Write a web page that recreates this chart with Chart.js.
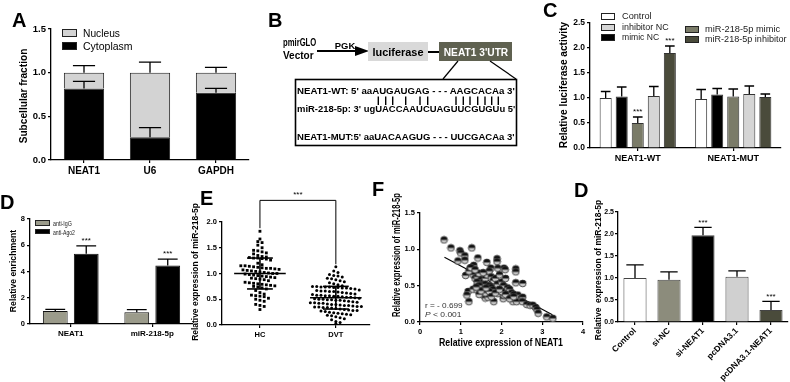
<!DOCTYPE html>
<html>
<head>
<meta charset="utf-8">
<script src="https://cdn.jsdelivr.net/npm/chart.js@4.4.0/dist/chart.umd.min.js"></script>
<style>
  body{margin:0;width:790px;height:382px;overflow:hidden;position:relative;background:#fff;font-family:'Liberation Sans',Arial,sans-serif;color:#000}
  canvas{position:absolute}
  .L{position:absolute;font-weight:bold;font-size:20px;line-height:20px}
  .t,.tc,.tv{position:absolute;white-space:nowrap;display:inline-block;line-height:1}
  .t{transform-origin:left center}
  .tc,.tv{transform-origin:center center}
  .b{font-weight:bold}
  .sw{position:absolute;box-sizing:border-box;border:1px solid #222}
  svg{position:absolute;left:0;top:0}
</style>
</head>
<body>
<canvas id="cA" width="252" height="190" style="left:0;top:10px"></canvas>
<canvas id="cC" width="245" height="180" style="left:540px;top:5px"></canvas>
<canvas id="cD" width="196" height="150" style="left:0;top:205px"></canvas>
<canvas id="cE" width="182" height="170" style="left:190px;top:185px"></canvas>
<canvas id="cF" width="210" height="160" style="left:380px;top:200px"></canvas>
<canvas id="cD2" width="200" height="182" style="left:590px;top:200px"></canvas>

<svg width="790" height="382">
  <line x1="317" y1="51" x2="357" y2="51" stroke="#000" stroke-width="2.2"/>
  <polygon points="355,46 369,51 355,56" fill="#000"/>
  <rect x="368" y="42" width="60" height="19" fill="#d9d9d9"/>
  <line x1="428" y1="52" x2="439" y2="52" stroke="#000" stroke-width="2"/>
  <rect x="439" y="42" width="73" height="19" fill="#5f6150"/>
  <line x1="458" y1="61" x2="443" y2="79" stroke="#000" stroke-width="1.2"/>
  <line x1="490" y1="61" x2="516" y2="79" stroke="#000" stroke-width="1.2"/>
  <rect x="295.5" y="79.5" width="221" height="66" fill="none" stroke="#000" stroke-width="1.6"/>
  <g id="pipes" stroke="#000" stroke-width="1.4"></g>
</svg>

<div class="L" style="left:12px;top:10px">A</div>
<div class="L" style="left:268px;top:10px">B</div>
<div class="L" style="left:543px;top:0px">C</div>
<div class="L" style="left:0px;top:192px">D</div>
<div class="L" style="left:200px;top:188px">E</div>
<div class="L" style="left:372px;top:179px">F</div>
<div class="L" style="left:574px;top:180px">D</div>

<!-- axis titles -->
<span class="tv b" data-x="23" data-y="96" data-w="95" style="font-size:11px">Subcellular fraction</span>
<span class="tv b" data-x="563" data-y="85" data-w="126" style="font-size:10.5px">Relative luciferase activity</span>
<span class="tv b" data-x="13" data-y="271" data-w="82" style="font-size:9.5px">Relative enrichment</span>
<span class="tv b" data-x="195" data-y="272" data-w="138" style="font-size:9.5px">Relative expression of miR-218-5p</span>
<span class="tv b" data-x="397" data-y="255" data-w="124" style="font-size:10px">Relative expression of miR-218-5p</span>
<span class="tc b" data-x="501" data-y="343" data-w="124" style="font-size:10px">Relative expression of NEAT1</span>
<span class="tv b" data-x="598" data-y="270" data-w="140" style="font-size:9.5px">Relative&nbsp; expression of miR-218-5p</span>

<!-- legends -->
<div class="sw" style="left:62px;top:29px;width:15px;height:8px;background:#d3d3d3"></div>
<div class="sw" style="left:62px;top:42px;width:15px;height:8px;background:#000"></div>
<span class="t" data-x="83" data-y="33" data-w="37" style="font-size:10.5px">Nucleus</span>
<span class="t" data-x="83" data-y="46" data-w="50" style="font-size:10.5px">Cytoplasm</span>

<div class="sw" style="left:601px;top:13px;width:14px;height:7px;background:#fff"></div>
<div class="sw" style="left:601px;top:24px;width:14px;height:7px;background:#d5d5d5"></div>
<div class="sw" style="left:601px;top:34px;width:14px;height:7px;background:#000"></div>
<div class="sw" style="left:685px;top:26px;width:14px;height:7px;background:#7a7b68"></div>
<div class="sw" style="left:685px;top:36px;width:14px;height:7px;background:#4a4b3b"></div>
<span class="t" data-x="622" data-y="16" data-w="30" style="font-size:9.5px;color:#222">Control</span>
<span class="t" data-x="622" data-y="27" data-w="47" style="font-size:9.5px;color:#222">inhibitor NC</span>
<span class="t" data-x="622" data-y="37" data-w="37" style="font-size:9.5px;color:#222">mimic NC</span>
<span class="t" data-x="705" data-y="29" data-w="75" style="font-size:9.5px;color:#222">miR-218-5p mimic</span>
<span class="t" data-x="705" data-y="39" data-w="82" style="font-size:9.5px;color:#222">miR-218-5p inhibitor</span>

<div class="sw" style="left:35px;top:220px;width:15px;height:6px;background:#9b9b8b"></div>
<div class="sw" style="left:35px;top:229px;width:15px;height:5px;background:#000"></div>
<span class="t" data-x="53" data-y="223" data-w="19" style="font-size:7px;color:#222">anti-IgG</span>
<span class="t" data-x="53" data-y="231.5" data-w="22" style="font-size:7px;color:#222">anti-Ago2</span>

<span class="t" data-x="425" data-y="306" data-w="38" style="font-size:8px;color:#333">r = - 0.699</span>
<span class="t" data-x="425" data-y="315" data-w="36" style="font-size:8px;color:#333"><i>P</i> &lt; 0.001</span>

<!-- panel B text -->
<span class="t b" data-x="283" data-y="43" data-w="33" style="font-size:10px">pmirGLO</span>
<span class="t b" data-x="283" data-y="56" data-w="31" style="font-size:10px">Vector</span>
<span class="tc b" data-x="345" data-y="46" data-w="20" style="font-size:8.5px">PGK</span>
<span class="tc b" data-x="398" data-y="52" data-w="51" style="font-size:10.5px">luciferase</span>
<span class="tc b" data-x="475.5" data-y="52" data-w="64" style="font-size:10.5px;color:#fff">NEAT1 3'UTR</span>
<span class="t b" data-x="297" data-y="91" data-w="218" style="font-size:9px">NEAT1-WT: 5' aaAUGAUGAG - - - AAGCACAa 3'</span>
<span class="t b" data-x="297" data-y="109" data-w="218" style="font-size:9px">miR-218-5p: 3' ugUACCAAUCUAGUUCGUGUu 5'</span>
<span class="t b" data-x="297" data-y="137" data-w="218" style="font-size:9px">NEAT1-MUT:5' aaUACAAGUG - - - UUCGACAa 3'</span>

<script>
// ---------- data ----------
// A: subcellular fractionation
const fracCats = ['NEAT1', 'U6', 'GAPDH'];
const cytoplasm = [0.82, 0.26, 0.77];
const cytoplasmErr = [0.08, 0.11, 0.05];
const nucleus = [0.18, 0.74, 0.23];
const nucleusErr = [0.08, 0.12, 0.06];

// C: luciferase reporter
const lucCats = ['NEAT1-WT', 'NEAT1-MUT'];
const lucControl = [1.00, 0.98];
const lucControlErr = [0.13, 0.19];
const lucMimicNC = [1.03, 1.07];
const lucMimicNCErr = [0.19, 0.12];
const lucMimic = [0.50, 1.03];
const lucMimicErr = [0.12, 0.15];
const lucMimicSig = ['***', ''];
const lucInhNC = [1.04, 1.08];
const lucInhNCErr = [0.19, 0.16];
const lucInh = [1.90, 1.02];
const lucInhErr = [0.14, 0.06];
const lucInhSig = ['***', ''];

// D: RIP
const ripCats = ['NEAT1', 'miR-218-5p'];
const antiIgG = [1.00, 0.90];
const antiIgGErr = [0.12, 0.20];
const antiAgo2 = [5.35, 4.45];
const antiAgo2Err = [0.60, 0.50];
const antiAgo2Sig = ['***', '***'];

// E: serum miR-218-5p
const eCats = ['HC', 'DVT'];
const hcValues = [1.82, 1.67, 1.62, 1.60, 1.55, 1.50, 1.45, 1.44, 1.42, 1.40, 1.38, 1.35, 1.33, 1.32, 1.31,
  1.30, 1.30, 1.29, 1.28, 1.26, 1.20, 1.17, 1.15, 1.15, 1.14, 1.13, 1.12, 1.11, 1.10, 1.10, 1.09, 1.08,
  1.07, 1.06, 1.05, 1.04, 1.03, 1.02, 1.01, 1.00, 1.00, 0.99, 0.98, 0.97, 0.96, 0.95, 0.94, 0.93, 0.92,
  0.91, 0.90, 0.89, 0.88, 0.86, 0.83, 0.82, 0.81, 0.80, 0.79, 0.78, 0.77, 0.76, 0.75, 0.74, 0.72, 0.70,
  0.67, 0.63, 0.60, 0.58, 0.57, 0.56, 0.55, 0.52, 0.50, 0.48, 0.46, 0.40, 0.38, 0.36, 0.30];
const dvtValues = [1.13, 1.05, 1.02, 0.98, 0.96, 0.95, 0.93, 0.91, 0.90, 0.88, 0.86, 0.84, 0.82, 0.80, 0.78,
  0.76, 0.75, 0.75, 0.74, 0.74, 0.74, 0.73, 0.73, 0.72, 0.72, 0.71, 0.70,
  0.68, 0.67, 0.66, 0.66, 0.65, 0.65, 0.64, 0.63, 0.62, 0.61,
  0.60, 0.59, 0.58, 0.58, 0.57, 0.57, 0.56, 0.56, 0.55, 0.54, 0.54, 0.53,
  0.52, 0.51, 0.50, 0.50, 0.49, 0.49, 0.48, 0.48, 0.47, 0.46, 0.45,
  0.44, 0.43, 0.43, 0.42, 0.42, 0.41, 0.40, 0.40, 0.39, 0.38, 0.38,
  0.37, 0.36, 0.36, 0.35, 0.35, 0.34, 0.34, 0.33, 0.32, 0.31,
  0.30, 0.29, 0.28, 0.28, 0.27, 0.26, 0.25, 0.24, 0.23, 0.22, 0.21, 0.20, 0.19, 0.18,
  0.16, 0.14, 0.12, 0.10, 0.07, 0.05, 0.03];
const hcMean = 1.00, hcSD = 0.30;
const dvtMean = 0.53, dvtSD = 0.22;
const eSig = '***';

// F: correlation
const neat1Expr = [0.59, 0.76, 0.98, 1.00, 0.93, 1.10, 1.10, 1.27, 1.42, 1.12, 1.23, 1.32, 1.64, 1.89, 1.89, 1.74,
  1.91, 2.06, 2.09, 2.35, 2.35, 2.35, 2.52, 1.18, 1.20, 1.15, 1.30, 1.40, 1.47, 1.55, 1.60, 1.67, 1.81, 1.91,
  2.04, 2.06, 2.14, 2.20, 2.25, 2.28, 2.37, 2.40, 2.49, 2.52, 2.51, 2.62, 2.70, 2.77, 2.84, 2.87, 2.90, 3.11,
  3.26, 1.30, 1.35, 1.40, 1.45, 1.50, 1.55, 1.60, 1.65, 1.70, 1.75, 1.80, 1.50, 1.55, 1.60, 1.65, 1.70, 1.75,
  1.80, 1.40, 1.45, 1.85, 1.90, 2.00, 2.05, 2.10, 2.15, 2.20, 2.25, 2.30, 2.00, 1.95, 1.20, 1.25, 1.35, 1.60,
  1.70, 1.75, 1.85, 1.95, 2.10, 2.20, 2.30, 1.45, 1.50, 1.62, 1.55, 1.38];
const mirExpr = [1.13, 1.02, 0.98, 0.95, 0.84, 0.91, 0.85, 1.02, 0.88, 0.64, 0.74, 0.78, 0.82, 0.87, 0.83, 0.74,
  0.74, 0.74, 0.72, 0.73, 0.69, 0.54, 0.53, 0.42, 0.28, 0.37, 0.45, 0.44, 0.44, 0.37, 0.33, 0.34, 0.28, 0.39,
  0.32, 0.37, 0.42, 0.37, 0.33, 0.28, 0.28, 0.37, 0.33, 0.34, 0.28, 0.24, 0.23, 0.23, 0.20, 0.17, 0.12, 0.07,
  0.05, 0.65, 0.60, 0.62, 0.67, 0.58, 0.55, 0.60, 0.65, 0.70, 0.62, 0.57, 0.50, 0.48, 0.52, 0.45, 0.50, 0.48,
  0.45, 0.55, 0.50, 0.60, 0.52, 0.55, 0.50, 0.60, 0.47, 0.45, 0.40, 0.38, 0.42, 0.65, 0.70, 0.75, 0.72, 0.40,
  0.42, 0.35, 0.40, 0.45, 0.38, 0.32, 0.35, 0.38, 0.43, 0.47, 0.68, 0.48];
const fitX = [0.60, 3.25];
const fitY = [0.89, 0.10];

// D (right): rescue
const rescueCats = ['Control', 'si-NC', 'si-NEAT1', 'pcDNA3.1', 'pcDNA3.1-NEAT1'];
const rescueVals = [1.00, 0.96, 1.97, 1.03, 0.27];
const rescueErr = [0.30, 0.18, 0.18, 0.13, 0.20];
const rescueSig = ['', '', '***', '', '***'];

// ---------- helpers ----------
const FONT = "'Liberation Sans', Arial, sans-serif";
Chart.defaults.font.family = FONT;
Chart.defaults.color = '#000';

document.querySelectorAll('.t,.tc,.tv').forEach(el => {
  const x = +el.dataset.x, y = +el.dataset.y, w = +el.dataset.w;
  const k = w / el.offsetWidth;
  el.style.left = x + 'px';
  el.style.top = y + 'px';
  if (el.classList.contains('tv')) el.style.transform = `translate(-50%,-50%) rotate(-90deg) scaleX(${k})`;
  else if (el.classList.contains('tc')) el.style.transform = `translate(-50%,-50%) scaleX(${k})`;
  else el.style.transform = `translateY(-50%) scaleX(${k})`;
});

const pipeX = [378.3, 385.7, 392.7, 405.7, 420, 427.7, 456, 463.3, 470, 477.7, 485, 491.7, 498.3];
const pipes = document.getElementById('pipes');
pipeX.forEach(x => {
  const l = document.createElementNS('http://www.w3.org/2000/svg', 'line');
  l.setAttribute('x1', x); l.setAttribute('x2', x); l.setAttribute('y1', 96.5); l.setAttribute('y2', 105);
  pipes.appendChild(l);
});

const errorBars = {
  id: 'errorBars',
  afterDatasetsDraw(chart) {
    const ctx = chart.ctx, y = chart.scales.y;
    chart.data.datasets.forEach((ds, i) => {
      if (!ds.errors) return;
      chart.getDatasetMeta(i).data.forEach((bar, j) => {
        const err = ds.errors[j];
        const yTop = y.getPixelForValue(y.getValueForPixel(bar.y) + err);
        const cap = bar.width * (ds.cap || 0.8) / 2;
        ctx.save();
        ctx.strokeStyle = ds.errColor || '#000';
        ctx.lineWidth = 1.3;
        ctx.beginPath();
        ctx.moveTo(bar.x, bar.y); ctx.lineTo(bar.x, yTop);
        ctx.moveTo(bar.x - cap, yTop); ctx.lineTo(bar.x + cap, yTop);
        ctx.stroke();
        if (ds.stars && ds.stars[j]) {
          ctx.fillStyle = '#000';
          ctx.font = '8px ' + FONT;
          ctx.textAlign = 'center';
          ctx.textBaseline = 'bottom';
          ctx.fillText(ds.stars[j], bar.x, yTop - 1);
        }
        ctx.restore();
      });
    });
  }
};

function yAx(min, max, step, W, size, digits, extra) {
  return Object.assign({
    min, max,
    ticks: { stepSize: step, font: { size, weight: 'bold' }, padding: 2, callback: v => (+v).toFixed(digits) },
    grid: { drawOnChartArea: false, tickLength: 3, color: '#000', lineWidth: 1.2 },
    border: { color: '#000', width: 1.3 },
    afterFit: s => { s.width = W; }
  }, extra || {});
}
function xCat(H, size, extra) {
  return Object.assign({
    ticks: { font: { size, weight: 'bold' }, padding: 2, autoSkip: false, maxRotation: 0 },
    grid: { offset: false, drawOnChartArea: false, tickLength: 3, color: '#000', lineWidth: 1.2 },
    border: { color: '#000', width: 1.3 },
    afterFit: s => { s.height = H; }
  }, extra || {});
}
function make(id, type, data, scales, pad, plugins) {
  return new Chart(document.getElementById(id), {
    type, data, plugins: plugins || [],
    options: {
      responsive: false, animation: false,
      layout: { padding: { top: pad[0], right: pad[1], bottom: 0, left: 0 }, autoPadding: false },
      plugins: { legend: { display: false }, tooltip: { enabled: false } },
      scales
    }
  });
}
function bar(label, data, color, errors, extra) {
  return Object.assign({ label, data, backgroundColor: color, borderColor: '#222', borderWidth: 1, errors }, extra || {});
}

// ---------- A ----------
make('cA', 'bar', {
  labels: fracCats,
  datasets: [
    bar('Cytoplasm', cytoplasm, '#000', cytoplasmErr, { cap: 0.55, barPercentage: 0.61, categoryPercentage: 1 }),
    bar('Nucleus', nucleus, '#d3d3d3', nucleusErr, { cap: 0.55, barPercentage: 0.61, categoryPercentage: 1 })
  ]
}, {
  x: xCat(40, 10, { stacked: true }),
  y: yAx(0, 1.5, 0.5, 51, 9.5, 1, { stacked: true })
}, [19, 3], [errorBars]);

// ---------- C ----------
const cOpt = { barPercentage: 0.75, categoryPercentage: 0.84, borderColor: '#333' };
make('cC', 'bar', {
  labels: lucCats,
  datasets: [
    bar('Control', lucControl, '#fff', lucControlErr, cOpt),
    bar('mimic NC', lucMimicNC, '#000', lucMimicNCErr, cOpt),
    bar('miR-218-5p mimic', lucMimic, '#7a7b68', lucMimicErr, Object.assign({ stars: lucMimicSig }, cOpt)),
    bar('inhibitor NC', lucInhNC, '#d5d5d5', lucInhNCErr, cOpt),
    bar('miR-218-5p inhibitor', lucInh, '#4a4b3b', lucInhErr, Object.assign({ stars: lucInhSig }, cOpt))
  ]
}, {
  x: xCat(37, 9),
  y: yAx(0, 2.5, 0.5, 50, 8.5, 1)
}, [18, 4], [errorBars]);

// ---------- D (left) ----------
const dOpt = { barPercentage: 0.8, categoryPercentage: 0.76, borderColor: '#111' };
make('cD', 'bar', {
  labels: ripCats,
  datasets: [
    bar('anti-IgG', antiIgG, '#9b9b8b', antiIgGErr, dOpt),
    bar('anti-Ago2', antiAgo2, '#000', antiAgo2Err, Object.assign({ stars: antiAgo2Sig }, dOpt))
  ]
}, {
  x: xCat(31, 8),
  y: yAx(0, 8, 2, 30, 7.5, 0)
}, [14, 3], [errorBars]);

// ---------- E ----------
// spread points of similar value side by side (scatter dot plot layout)
function swarm(values, center) {
  const rows = {};
  values.forEach(v => { const k = Math.round(v / 0.08); (rows[k] = rows[k] || []).push(v); });
  const pts = [];
  Object.values(rows).forEach(r => r.forEach((v, i) => pts.push({ x: center + (i - (r.length - 1) / 2) * 0.056, y: v })));
  return pts;
}
function statLines(center, mean, sd) {
  const seg = (a, b) => ({ type: 'line', data: [a, b], borderColor: '#000', borderWidth: 1.6, pointRadius: 0, showLine: true });
  return [
    seg({ x: center - 0.34, y: mean }, { x: center + 0.34, y: mean }),
    seg({ x: center - 0.17, y: mean + sd }, { x: center + 0.17, y: mean + sd }),
    seg({ x: center - 0.17, y: mean - sd }, { x: center + 0.17, y: mean - sd }),
    seg({ x: center, y: mean - sd }, { x: center, y: mean + sd })
  ];
}
const bracketE = {
  id: 'bracketE',
  afterDraw(c) {
    const { ctx, scales: { x, y } } = c;
    const x1 = x.getPixelForValue(1), x2 = x.getPixelForValue(2);
    const top = y.getPixelForValue(2.42);
    ctx.save();
    ctx.strokeStyle = '#000'; ctx.lineWidth = 1;
    ctx.beginPath();
    ctx.moveTo(x1, y.getPixelForValue(1.88)); ctx.lineTo(x1, top);
    ctx.lineTo(x2, top); ctx.lineTo(x2, y.getPixelForValue(1.18));
    ctx.stroke();
    ctx.fillStyle = '#000'; ctx.font = '8px ' + FONT;
    ctx.textAlign = 'center'; ctx.textBaseline = 'bottom';
    ctx.fillText(eSig, (x1 + x2) / 2, top - 2);
    ctx.restore();
  }
};
make('cE', 'scatter', {
  datasets: [
    { data: swarm(hcValues, 1), pointStyle: 'rect', radius: 2, backgroundColor: '#000', borderWidth: 0 },
    { data: swarm(dvtValues, 2), pointStyle: 'circle', radius: 1.5, backgroundColor: '#000', borderWidth: 0 },
    ...statLines(1, hcMean, hcSD),
    ...statLines(2, dvtMean, dvtSD)
  ]
}, {
  x: {
    type: 'linear', min: 0.5, max: 2.45,
    afterBuildTicks: s => { s.ticks = [{ value: 1 }, { value: 2 }]; },
    ticks: { font: { size: 7.5, weight: 'bold' }, padding: 2, callback: v => eCats[v - 1] },
    grid: { drawOnChartArea: false, tickLength: 3, color: '#000', lineWidth: 1.2 },
    border: { color: '#000', width: 1.3 },
    afterFit: s => { s.height = 30; }
  },
  y: yAx(0, 2, 0.5, 32, 7.5, 1)
}, [37, 2], [bracketE]);

// ---------- F ----------
function halfDot(r) {
  const s = Math.ceil(2 * r + 2), m = s / 2;
  const c = document.createElement('canvas');
  c.width = c.height = s;
  const g = c.getContext('2d');
  g.beginPath(); g.arc(m, m, r, 0, Math.PI * 2); g.fillStyle = '#c6c6c6'; g.fill();
  g.beginPath(); g.arc(m, m, r, Math.PI, 0); g.closePath(); g.fillStyle = '#111'; g.fill();
  g.beginPath(); g.arc(m, m, r, 0, Math.PI * 2); g.strokeStyle = '#333'; g.lineWidth = 0.8; g.stroke();
  return c;
}
make('cF', 'scatter', {
  datasets: [
    { data: neat1Expr.map((v, i) => ({ x: v, y: mirExpr[i] })), pointStyle: halfDot(3.4) },
    { type: 'line', data: fitX.map((v, i) => ({ x: v, y: fitY[i] })), borderColor: '#000', borderWidth: 1.1, pointRadius: 0, showLine: true }
  ]
}, {
  x: {
    type: 'linear', min: 0, max: 4,
    ticks: { stepSize: 1, font: { size: 7.5, weight: 'bold' }, padding: 2 },
    grid: { drawOnChartArea: false, tickLength: 3, color: '#000', lineWidth: 1.2 },
    border: { color: '#000', width: 1.3 },
    afterFit: s => { s.height = 38; }
  },
  y: yAx(0, 1.5, 0.5, 40, 7.5, 1)
}, [13, 7]);

// ---------- D (right) ----------
const d2Y = yAx(0, 2.5, 0.5, 28, 7, 1);
d2Y.ticks.padding = 1;
make('cD2', 'bar', {
  labels: rescueCats,
  datasets: [
    bar('miR-218-5p', rescueVals, ['#fff', '#8c8c7c', '#000', '#d0d0d0', '#4a4b3b'], rescueErr,
      { stars: rescueSig, barPercentage: 0.68, categoryPercentage: 1, borderColor: '#444', cap: 0.75 })
  ]
}, {
  x: xCat(60, 8.5, { ticks: { font: { size: 8.5, weight: 'bold' }, padding: 1, autoSkip: false, maxRotation: 45, minRotation: 45 } }),
  y: d2Y
}, [12, 2], [errorBars]);
</script>
</body>
</html>
